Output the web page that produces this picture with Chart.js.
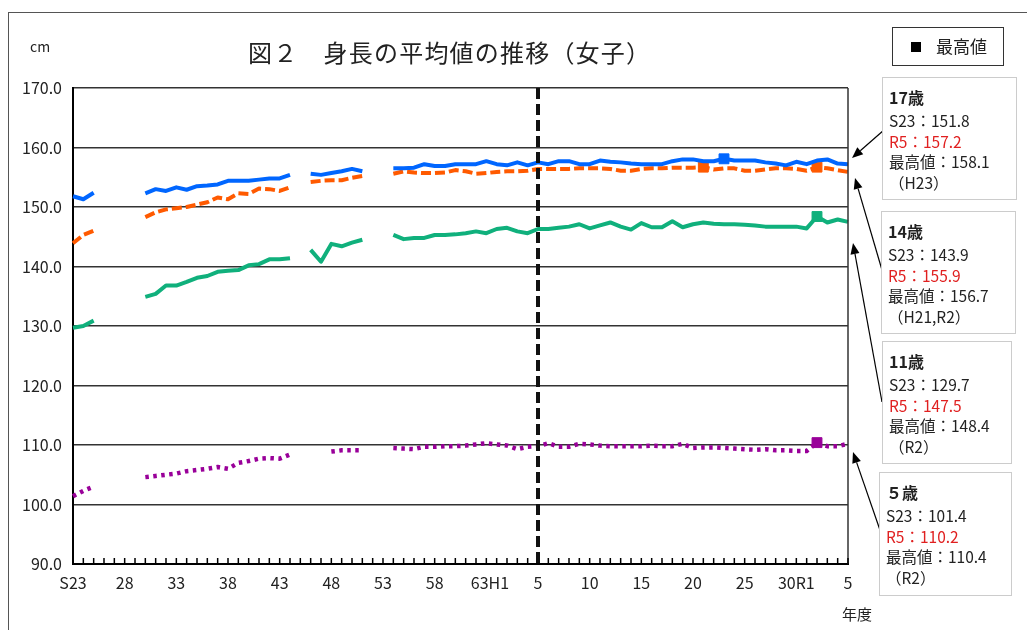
<!DOCTYPE html>
<html lang="ja">
<head>
<meta charset="utf-8">
<script src="https://cdn.jsdelivr.net/npm/chart.js@4.4.1/dist/chart.umd.min.js"></script>
<style>
  body { margin: 0; width: 1027px; height: 630px; overflow: hidden; background: #fff;
         font-family: "Noto Sans CJK JP", "Noto Sans", sans-serif; color: #222; position: relative; }
  #frame { position: absolute; left: 8px; top: 12px; width: 1100px; height: 700px;
           border-left: 1.5px solid #555; border-top: 1.5px solid #555; }
  #chart { position: absolute; left: 0; top: 0; }
  .title { position: absolute; left: 248px; top: 40px; font-size: 24px; line-height: 24px;
           letter-spacing: 1.2px; white-space: nowrap; color: #222; }
  .unit { position: absolute; left: 30px; top: 36px; font-size: 14px; }
  .nendo { position: absolute; left: 842px; top: 603px; font-size: 15px; }
  .legend { position: absolute; left: 892px; top: 27px; width: 112px; height: 39px;
            border: 1.5px solid #333; box-sizing: border-box; font-size: 17px; }
  .legend .sq { position: absolute; left: 18px; top: 14px; width: 10px; height: 10px; background: #000; }
  .legend .tx { position: absolute; left: 43px; top: 7px; line-height: 22px; }
  .note { position: absolute; border: 1.5px solid #ccc; box-sizing: border-box;
          padding: 6px 0 0 6px; font-size: 15.5px; line-height: 20.5px; background: #fff; white-space: nowrap; }
  .note .h { font-weight: bold; font-size: 16px; line-height: 26px; }
  .note .r { color: #e02020; }
</style>
</head>
<body>
<div id="frame"></div>
<canvas id="chart" width="1027" height="630"></canvas>
<div class="unit">cm</div>
<div class="title">図２　身長の平均値の推移（女子）</div>
<div class="nendo">年度</div>
<div class="legend"><div class="sq"></div><div class="tx">最高値</div></div>

<div class="note" style="left:882px;top:77px;width:135px;height:123px;">
  <div class="h">17歳</div><div>S23：151.8</div><div class="r">R5：157.2</div><div>最高値：158.1</div><div>（H23）</div>
</div>
<div class="note" style="left:881px;top:211px;width:135px;height:123px;">
  <div class="h">14歳</div><div>S23：143.9</div><div class="r">R5：155.9</div><div>最高値：156.7</div><div>（H21,R2）</div>
</div>
<div class="note" style="left:882px;top:341px;width:130px;height:123px;">
  <div class="h">11歳</div><div>S23：129.7</div><div class="r">R5：147.5</div><div>最高値：148.4</div><div>（R2）</div>
</div>
<div class="note" style="left:879px;top:472px;width:133px;height:124px;">
  <div class="h">５歳</div><div>S23：101.4</div><div class="r">R5：110.2</div><div>最高値：110.4</div><div>（R2）</div>
</div>

<script>
// 年度 S23(1948) 〜 R5(2023)
const years = [];
for (let y = 1948; y <= 2023; y++) {
  if (y <= 1988) years.push("S" + (y - 1925));
  else if (y <= 2018) years.push("H" + (y - 1988));
  else years.push("R" + (y - 2018));
}

// 5年ごとの目盛ラベル
const xTickLabels = ["S23", "28", "33", "38", "43", "48", "53", "58", "  63H1", "5", "10", "15", "20", "25", "30R1", "5"];
const yTicks = [90, 100, 110, 120, 130, 140, 150, 160, 170];
const dividerYear = "H5";

const height17 = [151.8, 151.3, 152.4, null, null, null, null, 152.3, 153.0, 152.7,
  153.3, 152.9, 153.5, 153.6, 153.8, 154.4, 154.4, 154.4, 154.6, 154.8,
  154.8, 155.4, null, 155.6, 155.4, 155.7, 156.0, 156.4, 156.0, null,
  null, 156.5, 156.5, 156.6, 157.2, 156.9, 156.9, 157.2, 157.2, 157.2,
  157.7, 157.2, 157.0, 157.5, 157.0, 157.5, 157.2, 157.7, 157.7, 157.2,
  157.2, 157.8, 157.6, 157.5, 157.3, 157.2, 157.2, 157.2, 157.7, 158.0,
  158.0, 157.7, 157.7, 158.1, 157.8, 157.8, 157.8, 157.5, 157.3, 157.0,
  157.6, 157.2, 157.8, 158.0, 157.3, 157.2];

const height14 = [143.9, 145.3, 146.0, null, null, null, null, 148.3, 149.1, 149.6,
  149.8, 150.0, 150.4, 150.8, 151.6, 151.3, 152.3, 152.2, 153.1, 153.0,
  152.7, 153.3, null, 154.2, 154.4, 154.5, 154.5, 154.9, 155.2, null,
  null, 155.6, 156.0, 155.8, 155.7, 155.7, 155.8, 156.2, 156.0, 155.6,
  155.7, 155.9, 156.0, 156.0, 156.1, 156.4, 156.4, 156.4, 156.4, 156.5,
  156.5, 156.5, 156.4, 156.1, 156.1, 156.4, 156.5, 156.5, 156.6, 156.6,
  156.6, 156.7, 156.3, 156.5, 156.5, 156.1, 156.1, 156.3, 156.5, 156.5,
  156.4, 156.1, 156.7, 156.5, 156.2, 155.9];

const height11 = [129.7, 130.0, 130.9, null, null, null, null, 134.9, 135.4, 136.8,
  136.8, 137.4, 138.1, 138.4, 139.1, 139.3, 139.4, 140.2, 140.4, 141.2,
  141.2, 141.4, null, 142.8, 140.8, 143.8, 143.4, 144.0, 144.5, null,
  null, 145.3, 144.6, 144.8, 144.8, 145.3, 145.3, 145.4, 145.6, 145.9,
  145.6, 146.3, 146.5, 145.9, 145.6, 146.3, 146.3, 146.5, 146.7, 147.1,
  146.4, 146.9, 147.4, 146.7, 146.2, 147.3, 146.6, 146.6, 147.6, 146.6,
  147.1, 147.4, 147.2, 147.1, 147.1, 147.0, 146.9, 146.7, 146.7, 146.7,
  146.7, 146.4, 148.4, 147.4, 147.9, 147.5];

const height5 = [101.4, 102.3, 103.0, null, null, null, null, 104.6, 104.8, 105.0,
  105.2, 105.6, 105.8, 106.0, 106.3, 106.0, 107.0, 107.3, 107.7, 107.8,
  107.7, 108.4, null, null, null, 108.9, 109.1, 109.1, 109.1, null,
  null, 109.5, 109.4, 109.3, 109.7, 109.7, 109.8, 109.8, 109.9, 110.1,
  110.3, 110.1, 109.9, 109.3, 109.7, 109.8, 110.3, 109.7, 109.7, 110.2,
  110.1, 109.9, 109.8, 109.8, 109.8, 109.8, 109.9, 109.8, 109.8, 110.2,
  109.5, 109.6, 109.6, 109.5, 109.4, 109.3, 109.2, 109.3, 109.1, 109.1,
  109.0, 109.0, 110.4, 109.8, 109.8, 110.2];

// 注記の矢印（注記枠 → 線の右端）
const arrows = [
  { from: [884, 130], to: [852, 158] },
  { from: [882, 270], to: [855, 178] },
  { from: [882, 402], to: [853, 243] },
  { from: [881, 533], to: [853, 452] }
];

function maxMarker(arr) {
  const m = Math.max(...arr.filter(v => v !== null));
  return ctx => (ctx.raw === m ? 7 : 0);
}

function series(label, data, color, dash, width) {
  return {
    label: label,
    data: data,
    borderColor: color,
    backgroundColor: color,
    borderWidth: width,
    borderDash: dash,
    borderCapStyle: "butt",
    borderJoinStyle: "round",
    pointStyle: "rect",
    pointRadius: maxMarker(data),
    pointBorderWidth: 1,
    pointHoverRadius: 0,
    tension: 0,
    spanGaps: false
  };
}

const decor = {
  id: "decor",
  afterDatasetsDraw(chart) {
    const { ctx, chartArea, scales } = chart;
    const x = scales.x;
    ctx.save();
    // 右枠
    ctx.strokeStyle = "#333";
    ctx.lineWidth = 1.5;
    ctx.beginPath();
    ctx.moveTo(chartArea.right, chartArea.top);
    ctx.lineTo(chartArea.right, chartArea.bottom);
    ctx.stroke();
    // 内向きの年目盛
    ctx.strokeStyle = "#000";
    ctx.beginPath();
    for (let i = 0; i < years.length; i++) {
      const px = x.getPixelForValue(i);
      ctx.moveTo(px, chartArea.bottom);
      ctx.lineTo(px, chartArea.bottom - 6);
    }
    ctx.stroke();
    // H5 の区切り線
    const dx = x.getPixelForValue(years.indexOf(dividerYear));
    ctx.strokeStyle = "#111";
    ctx.lineWidth = 4;
    ctx.setLineDash([11, 5]);
    ctx.beginPath();
    ctx.moveTo(dx, chartArea.top);
    ctx.lineTo(dx, chartArea.bottom);
    ctx.stroke();
    ctx.restore();
  },
  afterDraw(chart) {
    const ctx = chart.ctx;
    ctx.save();
    ctx.strokeStyle = "#000";
    ctx.fillStyle = "#000";
    ctx.lineWidth = 1.2;
    arrows.forEach(a => {
      const [x1, y1] = a.from, [x2, y2] = a.to;
      const ang = Math.atan2(y2 - y1, x2 - x1);
      const hl = 11, hw = 4.5;
      const bx = x2 - hl * Math.cos(ang), by = y2 - hl * Math.sin(ang);
      ctx.beginPath();
      ctx.moveTo(x1, y1);
      ctx.lineTo(bx, by);
      ctx.stroke();
      ctx.beginPath();
      ctx.moveTo(x2, y2);
      ctx.lineTo(bx + hw * Math.sin(ang), by - hw * Math.cos(ang));
      ctx.lineTo(bx - hw * Math.sin(ang), by + hw * Math.cos(ang));
      ctx.closePath();
      ctx.fill();
    });
    ctx.restore();
  }
};

const tickFont = { family: "'Noto Sans CJK JP', sans-serif", size: 16 };

new Chart(document.getElementById("chart"), {
  type: "line",
  data: {
    labels: years,
    datasets: [
      series("17歳", height17, "#0066ff", [], 4),
      series("14歳", height14, "#ff5a00", [10, 4], 4),
      series("11歳", height11, "#10b07c", [], 4),
      series("5歳", height5, "#990099", [3.5, 4.5], 4.5)
    ]
  },
  options: {
    responsive: false,
    animation: false,
    layout: { padding: { top: 88, right: 179, bottom: 0, left: 0 } },
    plugins: { legend: { display: false }, tooltip: { enabled: false } },
    scales: {
      x: {
        offset: false,
        afterFit: s => { s.height = 66; },
        grid: { display: false, drawTicks: false },
        border: { display: true, color: "#000", width: 2 },
        ticks: {
          autoSkip: false,
          maxRotation: 0,
          padding: 9,
          color: "#222",
          font: tickFont,
          callback: (v, i) => (i % 5 === 0 ? xTickLabels[i / 5] : "")
        }
      },
      y: {
        min: yTicks[0],
        max: yTicks[yTicks.length - 1],
        afterFit: s => { s.width = 73; },
        afterBuildTicks: s => { s.ticks = yTicks.map(v => ({ value: v })); },
        grid: { color: "#333", lineWidth: 1.5, drawTicks: false },
        border: { display: true, color: "#000", width: 2 },
        ticks: {
          padding: 11,
          color: "#222",
          font: tickFont,
          callback: v => Number(v).toFixed(1)
        }
      }
    }
  },
  plugins: [decor]
});
</script>
</body>
</html>
